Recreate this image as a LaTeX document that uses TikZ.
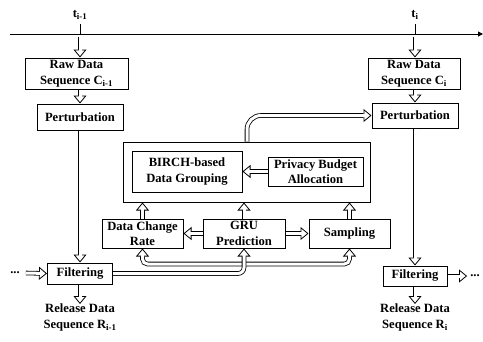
\documentclass[tikz,border=0pt]{standalone}
\usepackage{fontspec}
\setmainfont{Liberation Serif}
\usetikzlibrary{arrows.meta, positioning}

\begin{document}
\begin{tikzpicture}[x=1pt, y=-1pt,
    font=\fontsize{12.6}{15.5}\selectfont\bfseries,
    box/.style={draw, line width=1pt, align=center, inner sep=0pt},
    hollowtip/.tip={Triangle[fill=white, line width=0.8pt, length=8pt, width=13pt]},
    hollow/.style={line width=4.6pt, -{hollowtip},
      postaction={draw=white, line width=3pt, -, shorten >=6pt}},
    hollowboth/.style={line width=4.6pt, {hollowtip}-{hollowtip},
      postaction={draw=white, line width=3pt, -, shorten >=6pt, shorten <=6pt}}]
    \useasboundingbox (0,0) rectangle (483,341);

    % Time axis
    \draw[line width=1pt, -{Triangle[length=5pt, width=5pt]}] (10,34) -- (483,34);
    \coordinate (t1) at (80,34);
    \coordinate (t2) at (415,34);
    \draw[line width=1pt] (t1) -- ++(0,-10) node[above=1pt] (lblone) {t\textsubscript{i-1}};
    \draw[line width=1pt] (t2) -- ++(0,-10) node[above=1pt] (lbltwo) {t\textsubscript{i}};

    % Left column
    \node[box, minimum width=103pt, minimum height=31pt] (rawone) at (76.5,73.5) {Raw Data\\Sequence C\textsubscript{i-1}};
    \node[box, minimum width=86pt, minimum height=26pt] (pertone) at (80,117) {Perturbation};
    \node[box, minimum width=65pt, minimum height=21pt] (filtone) at (80,273.5) {Filtering};
    \node[align=center, anchor=north, inner sep=0pt] (relone) at (80,304) {Release Data\\Sequence R\textsubscript{i-1}};
    \node[inner sep=6pt] (dotsone) at (15,273) {...};

    % Right column
    \node[box, minimum width=92pt, minimum height=31pt] (rawtwo) at (414,73.5) {Raw Data\\Sequence C\textsubscript{i}};
    \node[box, minimum width=86pt, minimum height=25pt] (perttwo) at (415,115.5) {Perturbation};
    \node[box, minimum width=64pt, minimum height=20pt] (filttwo) at (415,276) {Filtering};
    \node[align=center, anchor=north, inner sep=0pt] (reltwo) at (415,304) {Release Data\\Sequence R\textsubscript{i}};
    \node[inner sep=3pt] (dotstwo) at (475,276) {...};

    % Middle part
    \node[box, minimum width=247pt, minimum height=60pt] (group) at (246.5,172) {};
    \node[box, minimum width=110pt, minimum height=41pt] (birch) at (187,171.5) {BIRCH-based\\Data Grouping};
    \node[box, minimum width=95pt, minimum height=29pt] (budget) at (315.5,171.5) {Privacy Budget\\Allocation};
    \node[box, minimum width=81pt, minimum height=29pt] (rate) at (142.5,233.5) {Data Change\\Rate};
    \node[box, minimum width=82pt, minimum height=29pt] (gru) at (244,233.5) {GRU\\Prediction};
    \node[box, minimum width=81pt, minimum height=29pt] (sampling) at (349.5,233.5) {Sampling};

    % Flow arrows
    \draw[hollow] ([yshift=-3pt]t1) -- (t1 |- rawone.north);
    \draw[hollow] (pertone.north |- rawone.south) -- (pertone.north);
    \draw[hollow] (pertone.south) -- (filtone.north);
    \draw[hollow] (filtone.south) -- (relone.north);
    \draw[hollow] (dotsone.east) -- (filtone.west);
    \draw[hollow] ([yshift=-3pt]t2) -- (t2 |- rawtwo.north);
    \draw[hollow] (perttwo.north |- rawtwo.south) -- (perttwo.north);
    \draw[hollow] (perttwo.south) -- (filttwo.north);
    \draw[hollow] (filttwo.south) -- (reltwo.north);
    \draw[hollow] (filttwo.east) -- (dotstwo.west);

    \draw[hollow] (budget.west) -- (birch.east);
    \draw[hollow] (gru.west) -- (rate.east);
    \draw[hollow] (gru.east) -- (sampling.west);
    \draw[hollow] (rate.north) -- (rate.north |- group.south);
    \draw[hollow] (gru.north) -- (gru.north |- group.south);
    \draw[hollow] (sampling.north) -- (sampling.north |- group.south);
    \draw[hollow, rounded corners=14pt] ([xshift=3pt]gru.north |- group.north) |- (perttwo.west);

    % Feedback from filtering
    \coordinate (fb) at (0,264);
    \draw[hollowboth, rounded corners=5pt] (rate.south) -- (rate.south |- fb) -- (sampling.south |- fb) -- (sampling.south);
    \draw[hollow, rounded corners=6pt] (filtone.east) -| (gru.south);
\end{tikzpicture}
\end{document}
